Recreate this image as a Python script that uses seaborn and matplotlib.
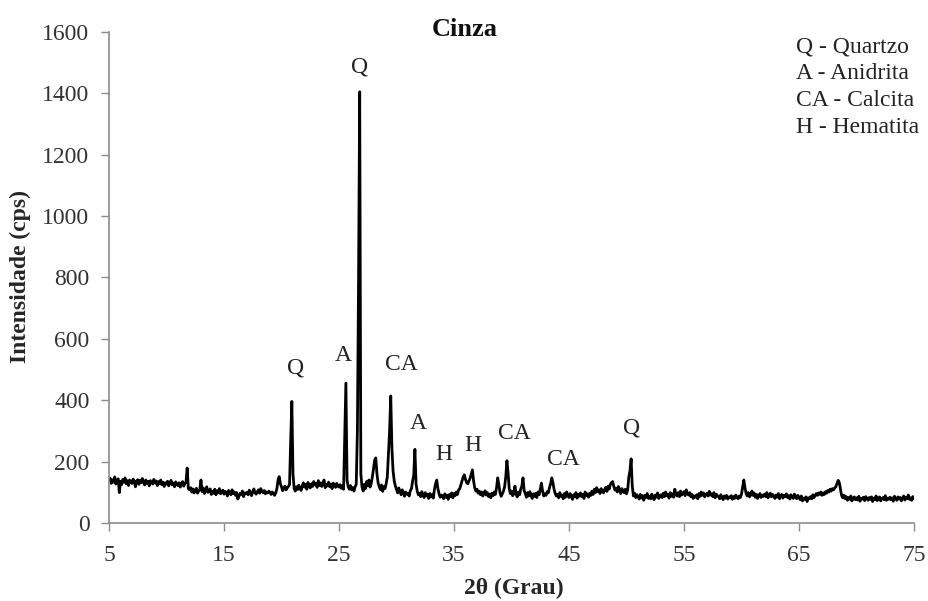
import numpy as np
import pandas as pd
import matplotlib
matplotlib.use("Agg")
import matplotlib.pyplot as plt
import seaborn as sns

# Diffractogram of the ash sample: 2-theta scan from 5 to 75 degrees, 0.1 degree step
scan_start = 5.0
scan_stop = 75.0
scan_step = 0.1

# Intensity (cps), one row per degree (x.0 ... x.9)
intensity_rows = [
    [138, 146, 129, 141, 133, 150, 127, 139, 144, 99],    # 5
    [136, 125, 142, 133, 147, 128, 138, 122, 140, 134],   # 6
    [129, 143, 135, 118, 137, 141, 126, 139, 131, 145],   # 7
    [133, 124, 140, 129, 136, 121, 138, 132, 127, 142],   # 8
    [130, 137, 122, 135, 128, 140, 125, 133, 119, 131],   # 9
    [127, 136, 121, 132, 139, 124, 130, 118, 134, 126],   # 10
    [122, 131, 117, 128, 135, 120, 129, 133, 179, 112],   # 11
    [108, 115, 101, 111, 98, 106, 113, 97, 104, 110],     # 12
    [140, 102, 114, 96, 107, 118, 100, 105, 111, 93],     # 13
    [103, 97, 110, 92, 105, 99, 112, 95, 101, 107],       # 14
    [94, 103, 99, 88, 106, 97, 92, 108, 96, 101],         # 15
    [90, 99, 78, 86, 97, 93, 104, 86, 98, 95],            # 16
    [100, 92, 107, 96, 89, 103, 111, 98, 94, 102],        # 17
    [108, 97, 112, 103, 99, 106, 95, 101, 98, 104],       # 18
    [99, 93, 101, 96, 90, 98, 112, 140, 151, 128],        # 19
    [118, 105, 112, 120, 108, 114, 119, 125, 270, 396],   # 20
    [160, 112, 104, 118, 109, 123, 114, 106, 120, 131],   # 21
    [117, 126, 110, 132, 121, 114, 128, 119, 135, 124],   # 22
    [129, 116, 138, 122, 131, 119, 127, 140, 115, 126],   # 23
    [121, 133, 118, 127, 112, 130, 124, 116, 129, 120],   # 24
    [117, 125, 113, 121, 110, 290, 456, 140, 118, 110],   # 25
    [122, 108, 115, 104, 118, 126, 300, 787, 1405, 160],  # 26
    [118, 104, 126, 112, 135, 121, 140, 117, 128, 150],   # 27
    [176, 205, 212, 160, 131, 118, 109, 124, 103, 119],   # 28
    [112, 128, 150, 225, 300, 414, 245, 170, 138, 121],   # 29
    [110, 98, 114, 103, 92, 108, 99, 87, 101, 94],        # 30
    [96, 88, 105, 112, 136, 157, 240, 128, 104, 92],      # 31
    [97, 86, 102, 91, 83, 99, 88, 94, 80, 96],            # 32
    [85, 92, 81, 110, 128, 140, 112, 95, 84, 91],         # 33
    [88, 79, 95, 84, 91, 77, 93, 86, 98, 82],             # 34
    [96, 89, 101, 93, 108, 112, 125, 138, 150, 157],      # 35
    [142, 131, 128, 137, 146, 160, 173, 138, 115, 104],   # 36
    [110, 97, 104, 92, 101, 88, 96, 105, 91, 99],         # 37
    [86, 94, 82, 97, 89, 101, 93, 115, 147, 125],         # 38
    [98, 87, 95, 104, 118, 150, 203, 165, 112, 96],       # 39
    [104, 89, 97, 120, 93, 85, 101, 92, 110, 120],        # 40
    [147, 105, 96, 84, 99, 88, 102, 91, 80, 95],          # 41
    [86, 97, 83, 101, 92, 110, 130, 104, 88, 95],         # 42
    [90, 102, 98, 115, 128, 147, 132, 110, 96, 88],       # 43
    [94, 82, 99, 87, 91, 79, 96, 84, 101, 89],            # 44
    [83, 96, 88, 77, 92, 85, 99, 81, 94, 87],             # 45
    [98, 86, 93, 80, 101, 89, 95, 84, 97, 90],            # 46
    [104, 93, 110, 99, 115, 102, 108, 96, 112, 105],      # 47
    [98, 109, 116, 103, 120, 111, 126, 132, 135, 118],    # 48
    [107, 114, 101, 119, 108, 96, 112, 103, 99, 110],     # 49
    [95, 108, 150, 170, 209, 120, 88, 97, 83, 92],        # 50
    [85, 78, 93, 81, 89, 74, 90, 83, 96, 80],             # 51
    [87, 79, 94, 82, 76, 91, 84, 98, 80, 88],             # 52
    [92, 83, 97, 86, 101, 89, 94, 81, 99, 87],            # 53
    [95, 84, 110, 92, 88, 99, 86, 104, 91, 97],           # 54
    [102, 89, 108, 96, 91, 99, 85, 93, 80, 88],           # 55
    [84, 92, 79, 96, 87, 101, 90, 98, 85, 93],            # 56
    [97, 88, 103, 91, 95, 86, 99, 82, 94, 89],            # 57
    [86, 79, 92, 83, 76, 88, 81, 90, 78, 85],             # 58
    [82, 89, 77, 86, 80, 91, 84, 79, 88, 83],             # 59
    [95, 118, 140, 115, 96, 88, 99, 85, 92, 104],         # 60
    [90, 98, 84, 93, 80, 89, 96, 83, 91, 87],             # 61
    [94, 86, 99, 82, 90, 97, 85, 93, 88, 80],             # 62
    [91, 84, 96, 79, 88, 93, 81, 90, 86, 95],             # 63
    [83, 89, 78, 92, 85, 80, 94, 87, 79, 90],             # 64
    [84, 76, 88, 72, 81, 77, 85, 70, 82, 79],             # 65
    [86, 79, 92, 83, 89, 96, 90, 98, 93, 101],            # 66
    [90, 98, 93, 102, 97, 106, 101, 110, 104, 112],       # 67
    [108, 114, 118, 128, 139, 132, 110, 90, 82, 91],      # 68
    [79, 86, 74, 83, 77, 88, 72, 81, 85, 76],             # 69
    [82, 75, 87, 71, 80, 78, 84, 73, 86, 79],             # 70
    [74, 83, 77, 85, 70, 81, 76, 88, 73, 80],             # 71
    [85, 72, 79, 83, 76, 89, 74, 81, 77, 84],             # 72
    [76, 82, 71, 87, 79, 74, 85, 78, 83, 72],             # 73
    [80, 88, 75, 84, 79, 91, 77, 82, 74, 86],             # 74
    [79],                                                 # 75
]

# Phase labels written above the peaks
peak_labels = ["Q", "A", "Q", "CA", "A", "H", "H", "CA", "CA", "Q"]
label_x = [21.2, 25.4, 26.8, 30.4, 31.85, 34.15, 36.6, 40.25, 44.55, 50.4]
label_y = [505, 547, 1486, 515, 323, 222, 251, 292, 208, 310]

legend_lines = ["Q - Quartzo", "A - Anidrita", "CA - Calcita", "H - Hematita"]

x_ticks = [5, 15, 25, 35, 45, 55, 65, 75]
y_ticks = [0, 200, 400, 600, 800, 1000, 1200, 1400, 1600]

intensity = [v for row in intensity_rows for v in row]
two_theta = np.round(np.arange(scan_start, scan_stop + scan_step / 2, scan_step), 1)
df = pd.DataFrame({"two_theta": two_theta, "intensity": intensity})

sns.set_theme(style="ticks")
plt.rcParams["font.family"] = ["Liberation Serif", "DejaVu Serif"]

fig = plt.figure(figsize=(9.29, 6.01), dpi=100)
ax = fig.add_axes([0.1173, 0.1298, 0.8666, 0.8170])

sns.lineplot(data=df, x="two_theta", y="intensity", color="black",
             linewidth=2.0, estimator=None, sort=False, ax=ax)

ax.set_xlim(5, 75)
ax.set_ylim(0, 1600)
ax.set_xticks(x_ticks)
ax.set_yticks(y_ticks)
ax.tick_params(axis="both", labelsize=17, labelcolor="#333333", color="#8c8c8c",
               length=6, width=1, direction="out")
ax.tick_params(axis="x", pad=10)
ax.tick_params(axis="y", pad=8)
for side in ("left", "bottom"):
    ax.spines[side].set_color("#8c8c8c")
    ax.spines[side].set_linewidth(1.2)
sns.despine(ax=ax)

ax.set_xlabel("2θ (Grau)", fontsize=17, fontweight="bold")
ax.set_ylabel("Intensidade (cps)", fontsize=17, fontweight="bold")
ax.xaxis.set_label_coords(0.5029, -0.112)
ax.yaxis.set_label_coords(-0.097, 0.501)

for lab, lx, ly in zip(peak_labels, label_x, label_y):
    ax.text(lx, ly, lab, ha="center", va="center", fontsize=17, color="#222222")

fig.text(465 / 929, 1 - 29 / 601, "Cinza", ha="center", va="center",
         fontsize=19, fontweight="bold", color="#111111")

fig.text(796 / 929, 1 - 36 / 601, "\n".join(legend_lines), ha="left", va="top",
         fontsize=17, linespacing=1.38, color="#222222")

fig.savefig("out.png", dpi=100, facecolor="white")
